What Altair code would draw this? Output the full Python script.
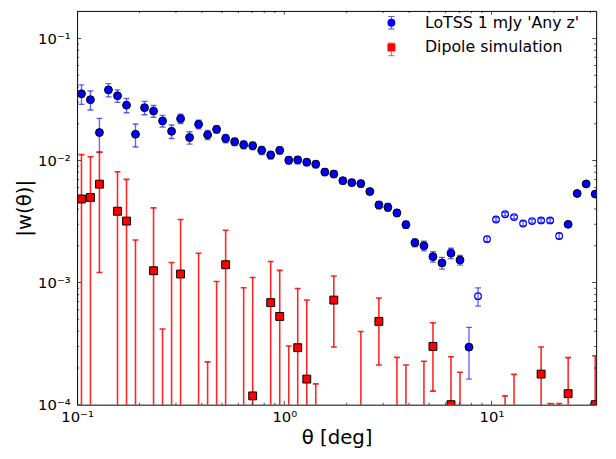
import altair as alt
import pandas as pd

# ---------------- data ----------------
theta = [0.1050, 0.1160, 0.1282, 0.1417, 0.1567, 0.1732, 0.1914, 0.2116, 0.2339, 0.2585,
         0.2858, 0.3159, 0.3491, 0.3859, 0.4266, 0.4715, 0.5212, 0.5761, 0.6368, 0.7039,
         0.7780, 0.8600, 0.9506, 1.051, 1.161, 1.284, 1.419, 1.569, 1.734, 1.917,
         2.118, 2.342, 2.588, 2.861, 3.162, 3.496, 3.864, 4.271, 4.721, 5.218,
         5.768, 6.375, 7.047, 7.789, 8.610, 9.517, 10.52, 11.63, 12.85, 14.21,
         15.70, 17.36, 19.19, 21.21, 23.44, 25.91, 28.64, 31.66]

# LoTSS w(theta) (signed; negative values drawn as open circles of |w|)
w_lotss = [0.0352, 0.0315, 0.01694, 0.0379, 0.0339, 0.0284, 0.0164, 0.0271, 0.0254, 0.0211,
           0.01734, 0.0220, 0.01542, 0.0198, 0.01622, 0.0180, 0.01513, 0.01424, 0.01346, 0.01321,
           0.01211, 0.01109, 0.01211, 0.01006, 0.01011, 0.00968, 0.00933, 0.00804, 0.00775, 0.00684,
           0.00659, 0.00647, 0.00557, 0.00432, 0.00414, 0.00372, 0.00298, 0.00212, 0.00200, 0.00163,
           0.00145, 0.00174, 0.00153, 0.000296, -0.000774, -0.00227, -0.00329, -0.00363, -0.00344, -0.00305,
           -0.00319, -0.00323, -0.00323, -0.00241, 0.00300, 0.00537, 0.00643, 0.00531]
err_lotss = [0.0064, 0.0056, 0.0052, 0.0047, 0.0040, 0.0038, 0.0035, 0.0034, 0.0028, 0.0023,
             0.0022, 0.0019, 0.0018, 0.0016, 0.0014, 0.0012, 0.0012, 0.0010, 0.0010, 0.0009,
             0.0009, 0.0008, 0.0008, 0.0007, 0.0007, 0.0006, 0.0006, 0.0005, 0.0005, 0.0004,
             0.0004, 0.0004, 0.0003, 0.0003, 0.0003, 0.00025, 0.0002, 0.00016, 0.00018, 0.00016,
             0.00016, 0.00017, 0.00014, 0.000134, 0.000132, 0.00012, 0.00012, 0.00012, 0.00012, 0.00012,
             0.00012, 0.00012, 0.00012, 0.00012, 0.00012, 0.00013, 0.00013, 0.00013]

N = None
# Dipole simulation: visible marker value, upper and lower end of error bar (None = off the axes)
w_dipole = [0.00484, 0.00498, 0.0064, N, 0.00384, 0.00319, N, N, 0.00125, N,
            N, 0.001175, N, N, N, N, 0.0014, N, N, 0.000118,
            N, 0.000685, 0.000528, N, 0.000293, 0.000162, N, N, 0.000719, N,
            N, N, N, 0.000481, N, N, N, N, N, 0.0003,
            N, 0.0001, N, N, N, N, N, N, N, N,
            N, 0.000178, N, N, 0.000123, N, N, 0.0001]
dipole_hi = [0.01118, 0.01073, 0.01167, N, 0.00809, 0.0070, 0.00223, N, 0.00409, 0.000417,
             0.00146, 0.00329, N, 0.00174, 0.000224, 0.00102, 0.00268, N, 0.000906, 0.0011,
             N, 0.001486, 0.001258, 0.000302, 0.000894, 0.000719, 0.000148, N, 0.001133, N,
             N, 0.000397, N, 0.000747, N, 0.000244, 0.000211, N, 0.000227, 0.000469,
             N, 0.000247, 0.000184, N, N, N, N, 0.000118, 0.000177, N,
             N, 0.000297, 0.000102, 0.000102, 0.000243, N, N, 0.000251]
dipole_lo = [N, N, 0.00121, N, N, N, N, N, N, N,
             N, N, N, N, N, N, N, N, N, N,
             N, N, N, N, N, N, N, N, 0.000297, N,
             N, N, N, 0.000211, N, N, N, N, N, 0.000129,
             N, N, N, N, N, N, N, N, N, N,
             N, N, N, N, N, N, N, N]

series_names = ["LoTSS 1 mJy 'Any z'", "Dipole simulation"]
series_colors = ["blue", "red"]
series_shapes = ["circle", "square"]
# keys for the error-bar legend glyphs (its labels are hidden; distinct keys keep it a separate legend)
errbar_keys = ["LoTSS errorbar", "Dipole errorbar"]

x_major = [0.1, 1, 10]
x_major_labels = ["10⁻¹", "10⁰", "10¹"]
x_minor = [0.2, 0.3, 0.4, 0.5, 0.6, 0.7, 0.8, 0.9, 2, 3, 4, 5, 6, 7, 8, 9, 20, 30]
y_major = [1e-4, 1e-3, 1e-2, 1e-1]
y_major_labels = ["10⁻⁴", "10⁻³", "10⁻²", "10⁻¹"]
y_minor = [2e-4, 3e-4, 4e-4, 5e-4, 6e-4, 7e-4, 8e-4, 9e-4,
           2e-3, 3e-3, 4e-3, 5e-3, 6e-3, 7e-3, 8e-3, 9e-3,
           2e-2, 3e-2, 4e-2, 5e-2, 6e-2, 7e-2, 8e-2, 9e-2]

# ---------------- tables ----------------
FLOOR = 1e-6  # below the axis: drawn but clipped
blue = pd.DataFrame({"theta": theta, "w": w_lotss, "err": err_lotss})
blue["absw"] = blue["w"].abs()
blue["lo"] = (blue["absw"] - blue["err"]).clip(lower=FLOOR)
blue["hi"] = blue["absw"] + blue["err"]
blue["series"] = series_names[0]
blue["errbar"] = errbar_keys[0]
blue_pos = blue[blue["w"] > 0]
blue_neg = blue[blue["w"] < 0]
blue_caps = pd.concat([blue[["theta"]].assign(v=blue["lo"]), blue[["theta"]].assign(v=blue["hi"])])

red = pd.DataFrame({"theta": theta, "w": w_dipole, "hi": dipole_hi, "lo": dipole_lo})
red["series"] = series_names[1]
red["errbar"] = errbar_keys[1]
red_bars = red[red["hi"].notna()].copy()
red_bars["lo"] = red_bars["lo"].fillna(FLOOR)
red_pts = red[red["w"].notna()].copy()
red_caps = pd.concat([red_bars[["theta"]].assign(v=red_bars["hi"]),
                      red_bars[["theta"]].assign(v=red_bars["lo"])])

W, H = 526, 399
xscale = alt.Scale(type="log", domain=[0.1, 32], nice=False, padding=0)
yscale = alt.Scale(type="log", domain=[1e-4, 0.168], nice=False, padding=0)


def label_expr(vals, labels):
    expr = "''"
    for v, l in reversed(list(zip(vals, labels))):
        expr = f"abs(datum.value - {v}) < {v}*0.01 ? '{l}' : ({expr})"
    return expr


xaxis = alt.Axis(values=x_major, labelExpr=label_expr(x_major, x_major_labels),
                 title="θ [deg]", labelPadding=5, titlePadding=3, labelFlush=False)
yaxis = alt.Axis(values=y_major, labelExpr=label_expr(y_major, y_major_labels),
                 title="|w(θ)|", labelPadding=7, titlePadding=3, labelFlush=False)

X = lambda f: alt.X(f, type="quantitative", scale=xscale, axis=xaxis)
Y = lambda f: alt.Y(f, type="quantitative", scale=yscale, axis=yaxis)

# legend 1: error-bar glyphs only (drawn first), legend 2: markers + labels (drawn on top)
# both use the same symbol size / stroke width so their rows line up exactly
ERRBAR_PATH = "M0,-1.6L0,1.6M-0.8,-1.6L0.8,-1.6M-0.8,1.6L0.8,1.6"
bar_legend = alt.Legend(title=None, orient="none", legendX=310.5, legendY=4,
                        symbolType=ERRBAR_PATH, symbolSize=64, symbolStrokeWidth=1,
                        symbolOpacity=0.7, labelFontSize=16, labelExpr="''",
                        labelOffset=26, rowPadding=9, padding=0)
pt_legend = alt.Legend(title=None, orient="none", legendX=310.5, legendY=4,
                       labelFontSize=16, labelFont="DejaVu Sans", labelColor="black",
                       symbolSize=64, symbolStrokeColor="black", symbolStrokeWidth=1,
                       labelOffset=26, rowPadding=9, padding=0)
bar_color = alt.Color("errbar:N", scale=alt.Scale(domain=errbar_keys, range=series_colors),
                      legend=bar_legend)
pt_fill = alt.Fill("series:N", scale=alt.Scale(domain=series_names, range=series_colors),
                   legend=pt_legend)
pt_shape = alt.Shape("series:N", scale=alt.Scale(domain=series_names, range=series_shapes),
                     legend=pt_legend)

blue_bar = alt.Chart(blue).mark_rule(opacity=0.6, strokeWidth=1.4, clip=True).encode(
    x=X("theta"), y=Y("lo"), y2="hi", color=bar_color)
blue_cap = alt.Chart(blue_caps).mark_tick(orient="horizontal", size=6, thickness=1.4, color="blue",
                                          opacity=0.6, clip=True).encode(x=X("theta"), y=Y("v"))
red_bar = alt.Chart(red_bars).mark_rule(opacity=0.85, strokeWidth=1.6, clip=True).encode(
    x=X("theta"), y=Y("lo"), y2="hi", color=bar_color)
red_cap = alt.Chart(red_caps).mark_tick(orient="horizontal", size=6, thickness=1.6, color="red",
                                        opacity=0.85, clip=True).encode(x=X("theta"), y=Y("v"))
blue_open = alt.Chart(blue_neg).mark_point(filled=False, size=46, strokeWidth=1.2, color="blue",
                                           opacity=1, clip=True).encode(x=X("theta"), y=Y("absw"))
blue_fill = alt.Chart(blue_pos).mark_point(filled=True, size=64, stroke="black", strokeWidth=1,
                                           opacity=1, clip=True).encode(
    x=X("theta"), y=Y("absw"), fill=pt_fill, shape=pt_shape)
red_sq = alt.Chart(red_pts).mark_point(filled=True, size=64, stroke="black", strokeWidth=1,
                                       opacity=1, clip=True).encode(
    x=X("theta"), y=Y("w"), fill=pt_fill, shape=pt_shape)

# inside ticks on all four sides
xmaj = pd.DataFrame({"t": x_major})
xmin = pd.DataFrame({"t": x_minor})
ymaj = pd.DataFrame({"t": y_major})
ymin = pd.DataFrame({"t": y_minor})
tick_layers = []
for df, sz in ((xmaj, 8), (xmin, 4)):
    for pos in (0, H):
        tick_layers.append(alt.Chart(df).mark_tick(orient="vertical", size=sz, thickness=1,
                                                   color="black", clip=True).encode(
            x=X("t"), y=alt.value(pos)))
for df, sz in ((ymaj, 8), (ymin, 4)):
    for pos in (0, W):
        tick_layers.append(alt.Chart(df).mark_tick(orient="horizontal", size=sz, thickness=1,
                                                   color="black", clip=True).encode(
            y=Y("t"), x=alt.value(pos)))

chart = alt.layer(blue_bar, blue_cap, red_bar, red_cap, blue_open, blue_fill, red_sq,
                  *tick_layers).properties(
    width=W, height=H,
    autosize=alt.AutoSizeParams(type="none"),
    padding={"left": 70, "top": 0, "right": 12, "bottom": 44},
).configure(font="DejaVu Sans").configure_view(
    stroke="black", strokeWidth=1
).configure_axis(
    domain=False, ticks=False, grid=False,
    labelFont="DejaVu Sans", labelFontSize=15, labelColor="black",
    titleFont="DejaVu Sans", titleFontSize=20, titleFontWeight="normal", titleColor="black",
)

chart.save("out.html", embed_options={"renderer": "svg", "actions": False})
